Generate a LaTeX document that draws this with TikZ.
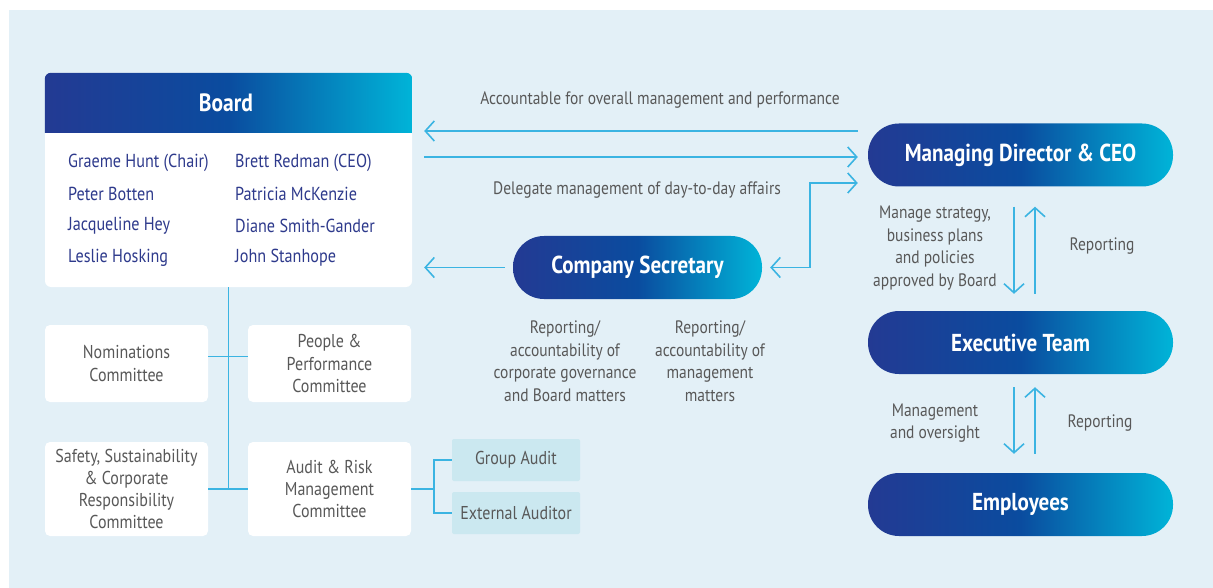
\documentclass[tikz,border=0pt]{standalone}
\usepackage{fontspec}
\setmainfont{PT Sans}[FakeStretch=0.86]
\usetikzlibrary{arrows.meta}
\definecolor{bgblue}{HTML}{E3F0F7}
\definecolor{navy}{HTML}{233A93}
\definecolor{midblue}{HTML}{0A4C9F}
\definecolor{cyanr}{HTML}{00B4D8}
\definecolor{linecyan}{HTML}{3BB4E2}
\definecolor{notegrey}{HTML}{585858}
\definecolor{namenavy}{HTML}{2E3A8C}
\definecolor{auditfill}{HTML}{CBE8F0}

\tikzset{
  pill/.style={rounded corners=31pt, minimum width=305pt, minimum height=63pt,
    left color=navy, right color=cyanr, middle color=midblue, text=white,
    inner sep=0pt, font=\bfseries\fontsize{24.5}{28}\selectfont},
  note/.style={text=notegrey, align=center, inner sep=0pt,
    font=\fontsize{18}{22.6}\selectfont},
  member/.style={text=namenavy, anchor=west, inner sep=0pt,
    font=\fontsize{18.8}{20}\selectfont},
  combox/.style={fill=white, rounded corners=5pt, minimum width=163pt,
    align=center, text=notegrey, inner sep=0pt,
    font=\fontsize{18.6}{22.2}\selectfont},
  auditbox/.style={fill=auditfill, rounded corners=2pt, minimum width=128pt,
    minimum height=42pt, text=notegrey, inner sep=0pt,
    font=\fontsize{18.6}{20}\selectfont},
  link/.style={draw=linecyan, line width=1.8pt},
  tip/.tip={Straight Barb[length=9pt,width=20pt,line width=1.6pt]},
  conn/.style={link, line width=1.6pt, -tip},
}

\begin{document}
\begin{tikzpicture}[x=1pt,y=-1pt]
  \useasboundingbox (0,0) rectangle (1213,588);
  \fill[bgblue] (9,10) rectangle (1213,588);

  % Board
  \node[fill=white, rounded corners=6pt, minimum width=367pt, minimum height=214pt,
    inner sep=0pt] (board) at (228.5,180) {};
  \begin{scope}
    \clip[rounded corners=6pt] (board.south west) rectangle (board.north east);
    \shade[left color=navy, right color=cyanr, middle color=midblue]
      (board.north west) rectangle ([yshift=-60pt]board.north east);
  \end{scope}
  \node[text=white, font=\bfseries\fontsize{25}{28}\selectfont] (boardtitle)
    at (226,103) {Board};
  \node[member] (m1) at (68,163) {Graeme Hunt (Chair)};
  \node[member] (m2) at (68,194) {Peter Botten};
  \node[member] (m3) at (68,226) {Jacqueline Hey};
  \node[member] (m4) at (68,258) {Leslie Hosking};
  \node[member] (m5) at (235,163) {Brett Redman (CEO)};
  \node[member] (m6) at (235,194) {Patricia McKenzie};
  \node[member] (m7) at (235,226) {Diane Smith-Gander};
  \node[member] (m8) at (235,258) {John Stanhope};

  % management line
  \node[pill] (md) at (1020.5,155) {Managing Director \& CEO};
  \node[pill] (exec) at (1020.5,342.5) {Executive Team};
  \node[pill] (emp) at (1020.5,504.5) {Employees};
  \node[pill, minimum width=249pt] (cs) at (637.5,267.5) {Company Secretary};

  % board <-> md
  \draw[conn] ([shift={(-10pt,24pt)}]md.west) -- ([shift={(12pt,24pt)}]md.west -| board.east);
  \draw[conn] ([xshift=12pt,yshift=-2pt]md.west -| board.east) -- ([xshift=-10pt,yshift=-2pt]md.west);
  \draw[conn, tip-tip]
    ([shift={(-10pt,-28pt)}]md.west) -- ++(-48,0) |- ([xshift=8pt]cs.east);
  \draw[conn] ([xshift=-8pt]cs.west) -- ([xshift=12pt]cs.west -| board.east);
  \node[note] (acc) at (660,100) {Accountable for overall management and performance};
  \node[note] (del) at (637,190) {Delegate management of day-to-day affairs};
  \node[note] (csl) at (565,361) {Reporting/\\accountability of\\corporate governance\\and Board matters};
  \node[note] (csr) at (710,361) {Reporting/\\accountability of\\management\\matters};

  % md <-> exec <-> employees
  \draw[conn] ([xshift=-6.5pt,yshift=-20pt]md.south) -- ([xshift=-6.5pt,yshift=17pt]exec.north);
  \draw[conn] ([xshift=14.5pt,yshift=17pt]exec.north) -- ([xshift=14.5pt,yshift=-20pt]md.south);
  \draw[conn] ([xshift=-6.5pt,yshift=-13pt]exec.south) -- ([xshift=-6.5pt,yshift=19pt]emp.north);
  \draw[conn] ([xshift=14.5pt,yshift=19pt]emp.north) -- ([xshift=14.5pt,yshift=-13pt]exec.south);
  \node[note] (strat) at (935,248) {Manage strategy,\\business plans\\and policies\\approved by Board};
  \node[note] (rep1) at (1102,246) {Reporting};
  \node[note] (mgmt) at (935,423) {Management\\and oversight};
  \node[note] (rep2) at (1100,423) {Reporting};

  % committees
  \node[combox, minimum height=77pt] (nom) at (126.5,363.5) {Nominations\\Committee};
  \node[combox, minimum height=77pt] (pp) at (329.5,363.5) {People \&\\Performance\\Committee};
  \node[combox, minimum height=94pt] (ssc) at (126.5,489) {Safety, Sustainability\\\& Corporate\\Responsibility\\Committee};
  \node[combox, minimum height=94pt] (arm) at (329.5,489) {Audit \& Risk\\Management\\Committee};
  \node[auditbox] (ga) at (516,460) {Group Audit};
  \node[auditbox] (ea) at (516,513) {External Auditor};

  \draw[link] (board.south) -- (board.south |- arm.west);
  \draw[link] ([yshift=7pt]nom.east) -- ([yshift=7pt]pp.west);
  \draw[link] (ssc.east) -- (arm.west);
  \draw[link] (arm.east) -- ++(23,0) |- (ga.west);
  \draw[link] (arm.east) -- ++(23,0) |- (ea.west);
\end{tikzpicture}
\end{document}
